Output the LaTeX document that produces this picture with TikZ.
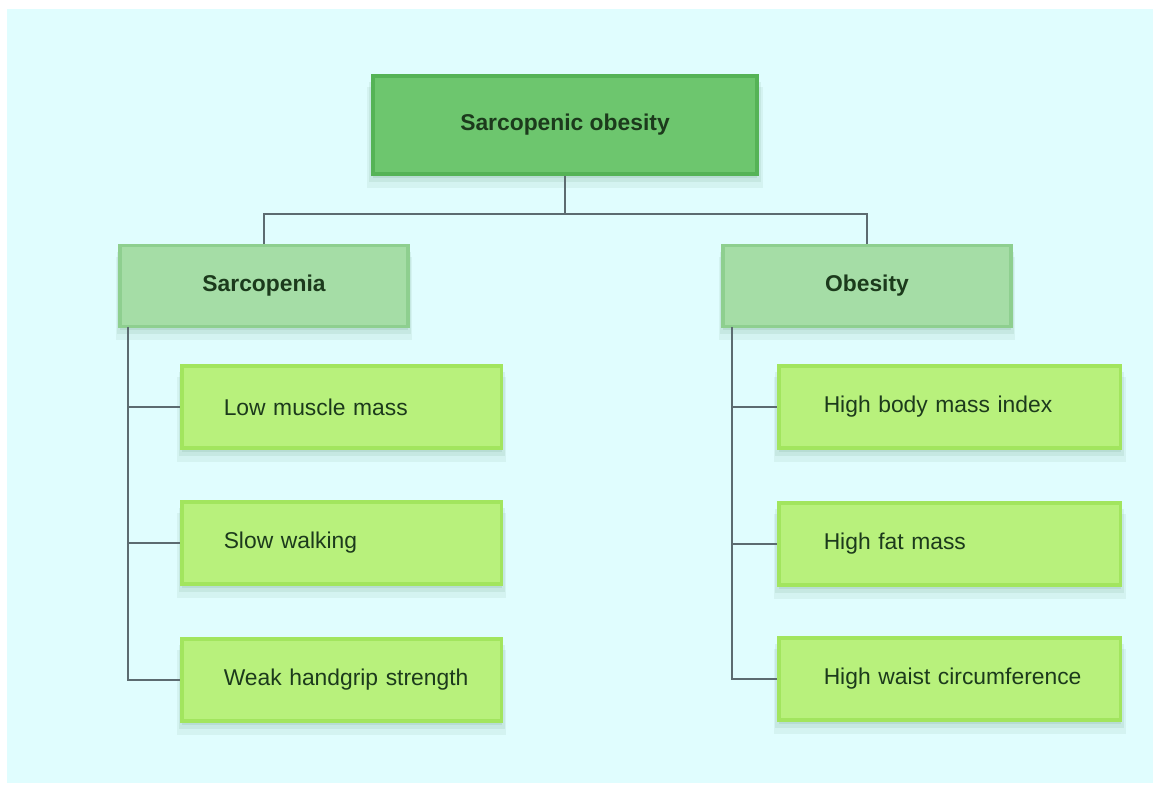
\documentclass[tikz,border=0pt]{standalone}
\usepackage{fontspec}
\setmainfont{Liberation Sans}
\usetikzlibrary{shadows}

\definecolor{panelbg}{HTML}{E0FDFE}
\definecolor{topfill}{HTML}{6DC66E}
\definecolor{topline}{HTML}{55B356}
\definecolor{midfill}{HTML}{A5DDA6}
\definecolor{midline}{HTML}{8ECF8F}
\definecolor{leaffill}{HTML}{B8F17C}
\definecolor{leafline}{HTML}{A2E55E}
\definecolor{wire}{HTML}{5C6B70}
\definecolor{ink}{HTML}{1C3A1C}
\definecolor{shade}{HTML}{3C7A50}

\tikzset{
    box/.style={rectangle, line width=2pt, text=ink,
        font=\fontsize{13}{15}\selectfont,
        drop shadow={shadow xshift=0pt, shadow yshift=-7pt, shadow scale=1.03, fill=shade, opacity=0.07},
        drop shadow={shadow xshift=0pt, shadow yshift=-4pt, shadow scale=1.02, fill=shade, opacity=0.09},
        drop shadow={shadow xshift=0pt, shadow yshift=-2pt, fill=shade, opacity=0.10}},
    rootbox/.style={box, fill=topfill, draw=topline, font=\fontsize{13}{15}\selectfont\bfseries,
        minimum width=7.68cm, minimum height=1.96cm},
    groupbox/.style={box, fill=midfill, draw=midline, font=\fontsize{13}{15}\selectfont\bfseries,
        minimum width=5.76cm, minimum height=1.62cm},
    leafbox/.style 2 args={box, fill=leaffill, draw=leafline, anchor=west, align=left,
        minimum height=1.64cm, inner xsep=0pt, text width=#1,
        execute at begin node={\hspace*{#2}}},
    wireline/.style={draw=wire, line width=1pt}
}

\begin{document}
\begin{tikzpicture}[x=0.02cm, y=-0.02cm]
    % page and panel
    \fill[white] (0,0) rectangle (1156,785);
    \fill[panelbg] (7,9) rectangle (1153,783);
    \useasboundingbox (0,0) rectangle (1156,785);

    % top and groups
    \node[rootbox] (root) at (565,125) {Sarcopenic obesity};
    \node[groupbox] (sarc) at (264,286) {Sarcopenia};
    \node[groupbox] (obes) at (867,286) {Obesity};

    % left leaves
    \node[leafbox={6.4cm}{0.84cm}] (lowmass) at (180,407) {Low muscle mass};
    \node[leafbox={6.4cm}{0.84cm}] (slowwalk) at (180,543) {Slow walking};
    \node[leafbox={6.4cm}{0.84cm}] (weakgrip) at (180,680) {Weak handgrip strength};

    % right leaves
    \node[leafbox={6.84cm}{0.9cm}] (highbmi) at (777,407) {High body mass index};
    \node[leafbox={6.84cm}{0.9cm}] (highfat) at (777,544) {High fat mass};
    \node[leafbox={6.84cm}{0.9cm}] (highwaist) at (777,679) {High waist circumference};

    % connectors
    \draw[wireline] (root.south) -- ++(0,38) coordinate (split);
    \draw[wireline] (split) -| (sarc.north);
    \draw[wireline] (split) -| (obes.north);

    \draw[wireline] (sarc.south west) ++(10,-1) coordinate (sleft);
    \draw[wireline] (sleft) |- (lowmass.west) (sleft) |- (slowwalk.west) (sleft) |- (weakgrip.west);

    \draw[wireline] (obes.south west) ++(11,-1) coordinate (oleft);
    \draw[wireline] (oleft) |- (highbmi.west) (oleft) |- (highfat.west) (oleft) |- (highwaist.west);
\end{tikzpicture}
\end{document}
